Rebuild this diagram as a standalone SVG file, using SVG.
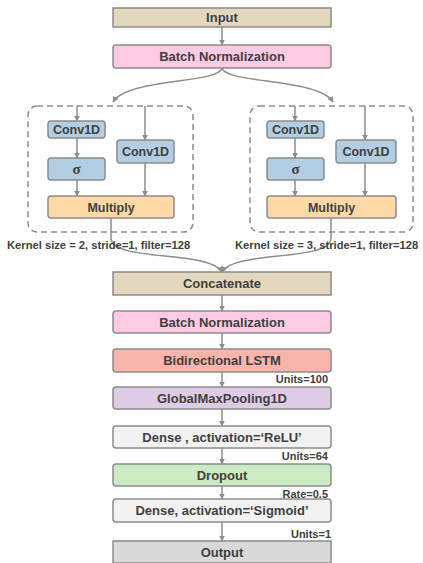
<svg xmlns="http://www.w3.org/2000/svg" width="423" height="563" viewBox="0 0 423 563">
<defs>
<marker id="ah" viewBox="0 0 10 10" refX="9" refY="5" markerWidth="6" markerHeight="6" markerUnits="userSpaceOnUse" orient="auto">
<path d="M0,0 L10,5 L0,10 z" fill="#8c8c8c"/>
</marker>
<style>
.b{stroke:#8c8c8c;stroke-width:1.5}
.t{font-family:"Liberation Sans",Arial,sans-serif;font-weight:bold;font-size:13px;fill:#404040;text-anchor:middle}
.m{font-size:12.5px}
.s{font-family:"Liberation Sans",Arial,sans-serif;font-weight:bold;font-size:11px;fill:#404040}
.k{font-size:11.2px}
.c{fill:none;stroke:#8c8c8c;stroke-width:1.5;marker-end:url(#ah)}
.d{fill:none;stroke:#8c8c8c;stroke-width:1.5;stroke-dasharray:6,4}
</style>
</defs>
<rect width="423" height="563" fill="#ffffff"/>
<g id="connectors">
<path class="c" d="M222,27 V45"/>
<path class="c" d="M222,68 C218,84 128,78 113,102"/>
<path class="c" d="M222,68 C226,84 318,78 333,102"/>
<path class="c" d="M77,106 V121"/>
<path class="c" d="M145,106 V140"/>
<path class="c" d="M77,138 V158"/>
<path class="c" d="M77,180 V196"/>
<path class="c" d="M145,163 V196"/>
<path class="c" d="M295,106 V121"/>
<path class="c" d="M365,106 V140"/>
<path class="c" d="M295,138 V158"/>
<path class="c" d="M295,180 V196"/>
<path class="c" d="M365,163 V196"/>
<path class="c" d="M111,218 V238 C111,262 210,250 222,272"/>
<path class="c" d="M331,218 V238 C331,262 234,250 222,272"/>
<path class="c" d="M222,295 V311"/>
<path class="c" d="M222,333 V349"/>
<path class="c" d="M222,372 V387"/>
<path class="c" d="M222,409 V426"/>
<path class="c" d="M222,448 V464"/>
<path class="c" d="M222,486 V499"/>
<path class="c" d="M222,522 V541"/>
</g>
<g id="group1"><rect class="d" x="28" y="106" width="165" height="126" rx="9"/></g>
<g id="group2"><rect class="d" x="250" y="106" width="163" height="126" rx="9"/></g>
<g id="input"><rect class="b" x="113" y="8" width="218" height="19" fill="#e3d7bd"/><text class="t" x="222" y="22">Input</text></g>
<g id="bn1"><rect class="b" x="113" y="45" width="218" height="23" rx="3" fill="#fccbe3"/><text class="t" x="222" y="61">Batch Normalization</text></g>
<g id="conv1a"><rect class="b" x="48" y="121" width="57" height="17" rx="3" fill="#b3cde3"/><text class="t m" x="76.5" y="134">Conv1D</text></g>
<g id="sig1"><rect class="b" x="48" y="158" width="57" height="22" rx="3" fill="#b3cde3"/><text class="t" x="76.5" y="173.5" style="font-family:'Liberation Serif',serif;font-size:15px">σ</text></g>
<g id="conv1b"><rect class="b" x="117" y="140" width="57" height="23" rx="3" fill="#b3cde3"/><text class="t m" x="145.5" y="156">Conv1D</text></g>
<g id="mul1"><rect class="b" x="48" y="196" width="126" height="22" rx="3" fill="#fed9a6"/><text class="t m" x="111" y="211.5">Multiply</text></g>
<g id="conv2a"><rect class="b" x="267" y="121" width="57" height="17" rx="3" fill="#b3cde3"/><text class="t m" x="295.5" y="134">Conv1D</text></g>
<g id="sig2"><rect class="b" x="267" y="158" width="57" height="22" rx="3" fill="#b3cde3"/><text class="t" x="295.5" y="173.5" style="font-family:'Liberation Serif',serif;font-size:15px">σ</text></g>
<g id="conv2b"><rect class="b" x="336" y="140" width="60" height="23" rx="3" fill="#b3cde3"/><text class="t m" x="366" y="156">Conv1D</text></g>
<g id="mul2"><rect class="b" x="267" y="196" width="129" height="22" rx="3" fill="#fed9a6"/><text class="t m" x="331.5" y="211.5">Multiply</text></g>
<g id="label1"><text class="s k" x="7" y="249">Kernel size = 2, stride=1, filter=128</text></g>
<g id="label2"><text class="s k" x="235" y="249">Kernel size = 3, stride=1, filter=128</text></g>
<g id="concat"><rect class="b" x="113" y="272" width="218" height="23" fill="#e3d7bd"/><text class="t" x="222" y="288">Concatenate</text></g>
<g id="bn2"><rect class="b" x="113" y="311" width="218" height="22" rx="3" fill="#fccbe3"/><text class="t" x="222" y="326.5">Batch Normalization</text></g>
<g id="lstm"><rect class="b" x="113" y="349" width="218" height="23" rx="3" fill="#f9b4ab"/><text class="t" x="222" y="365">Bidirectional  LSTM</text></g>
<g id="units100"><text class="s" x="328" y="383" text-anchor="end">Units=100</text></g>
<g id="gmp"><rect class="b" x="113" y="387" width="218" height="22" rx="3" fill="#decbe4"/><text class="t" x="222" y="402.5">GlobalMaxPooling1D</text></g>
<g id="dense1"><rect class="b" x="113" y="426" width="218" height="22" rx="3" fill="#f2f2f2"/><text class="t" x="222" y="441.5">Dense , activation=‘ReLU’</text></g>
<g id="units64"><text class="s" x="328" y="460" text-anchor="end">Units=64</text></g>
<g id="dropout"><rect class="b" x="113" y="464" width="218" height="22" rx="3" fill="#ccebc5"/><text class="t" x="222" y="479.5">Dropout</text></g>
<g id="rate"><text class="s" x="328" y="498" text-anchor="end">Rate=0.5</text></g>
<g id="dense2"><rect class="b" x="113" y="499" width="218" height="23" rx="3" fill="#f2f2f2"/><text class="t" x="222" y="515">Dense, activation=‘Sigmoid’</text></g>
<g id="units1"><text class="s" x="331" y="538" text-anchor="end">Units=1</text></g>
<g id="output"><rect class="b" x="113" y="541" width="218" height="22" fill="#d9d9d9"/><text class="t" x="222" y="556.5">Output</text></g>
</svg>
